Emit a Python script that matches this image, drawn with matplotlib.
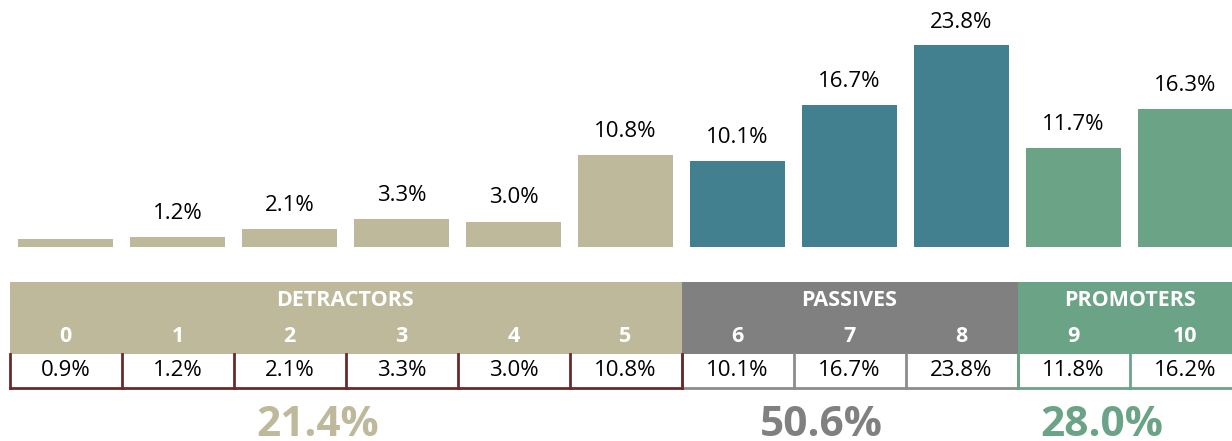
import matplotlib.pyplot as plt
from matplotlib.patches import Rectangle

# data
scores = [str(s) for s in range(11)]
bar_pct = [0.9, 1.2, 2.1, 3.3, 3.0, 10.8, 10.1, 16.7, 23.8, 11.7, 16.3]
bar_labels = ['', '1.2%', '2.1%', '3.3%', '3.0%', '10.8%', '10.1%', '16.7%', '23.8%', '11.7%', '16.3%']
table_pct = ['0.9%', '1.2%', '2.1%', '3.3%', '3.0%', '10.8%', '10.1%', '16.7%', '23.8%', '11.8%', '16.2%']
groups = ['DETRACTORS', 'PASSIVES', 'PROMOTERS']
group_cols = [(0, 5), (6, 8), (9, 10)]
group_totals = ['21.4%', '50.6%', '28.0%']

band_colors = ['#BDB99A', '#808080', '#6AA386']
bar_colors = ['#BDB99A', '#42808F', '#6AA386']
border_colors = ['#6B2A2A', '#8C8C8C', '#6AA386']
border_z = [3, 2, 3]  # passives borders sit under the neighbours

plt.rcParams['font.family'] = ['Open Sans', 'DejaVu Sans']

W, H = 1232, 441
fig = plt.figure(figsize=(W / 100, H / 100), dpi=100)

xlo, xhi = -65.5 / 112, (W - 65.5) / 112

# bars
ax = fig.add_axes([0, (H - 247) / H, 1, 247 / H])
colors = []
for g, (a, b) in enumerate(group_cols):
    colors += [bar_colors[g]] * (b - a + 1)
x = list(range(len(scores)))
ax.bar(x, bar_pct, width=0.85, color=colors)
ytop = 247 / 8.487
for i, v in enumerate(bar_pct):
    if bar_labels[i]:
        y = min(v + 1.55, ytop - 3.9)
        ax.text(i, y, bar_labels[i], ha='center', va='bottom', fontsize=16, color='black')
ax.set_xlim(xlo, xhi)
ax.set_ylim(0, ytop)
ax.axis('off')

# table below
tb = fig.add_axes([0, 0, 1, 1])
tb.set_xlim(xlo, xhi)
tb.set_ylim(H, 0)
tb.axis('off')

band_top, band_bot, row_bot = 282, 354, 388
for g, (a, b) in enumerate(group_cols):
    tb.add_patch(Rectangle((a - 0.5, band_top), b - a + 1, band_bot - band_top,
                           facecolor=band_colors[g], edgecolor='none'))
    tb.text((a + b) / 2, 301, groups[g], ha='center', va='center', fontsize=15.5,
            fontweight='bold', color='white')
    for i in range(a, b + 1):
        tb.text(i, 337, scores[i], ha='center', va='center', fontsize=15.5,
                fontweight='bold', color='white')
        tb.text(i, 370, table_pct[i], ha='center', va='center', fontsize=16, color='black')
    # cell borders
    tb.plot([a - 0.5, b + 0.5], [row_bot, row_bot], color=border_colors[g], lw=2,
            zorder=border_z[g])
    for i in range(a, b + 2):
        tb.plot([i - 0.5, i - 0.5], [band_bot, row_bot], color=border_colors[g], lw=2,
                zorder=border_z[g])
    tb.text((a + b) / 2 - 0.25, 426, group_totals[g], ha='center', va='center',
            fontsize=30.5, fontweight='bold', color=band_colors[g])

fig.savefig('out.png', dpi=100)
